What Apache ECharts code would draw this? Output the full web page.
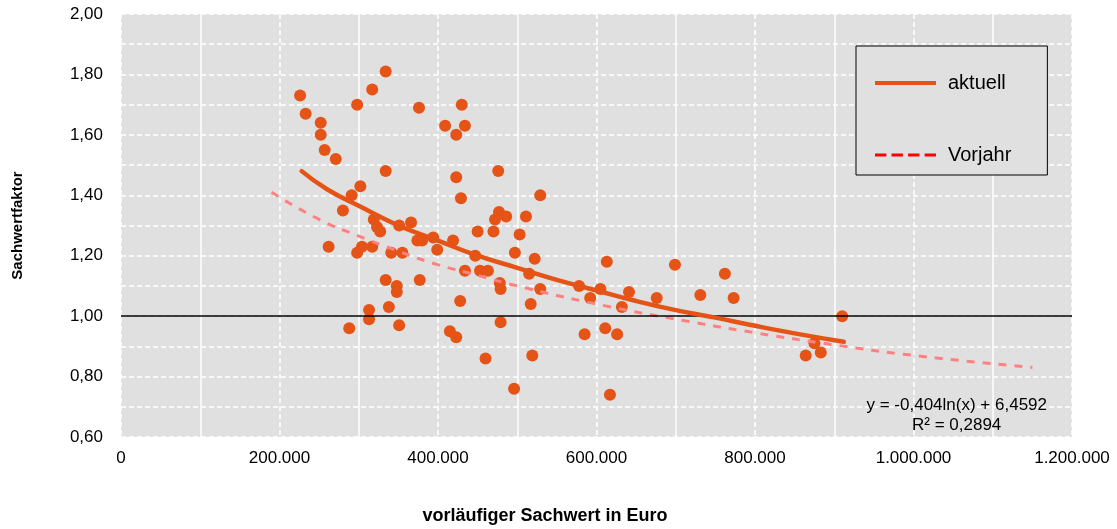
<!DOCTYPE html>
<html>
<head>
<meta charset="utf-8">
<script src="https://cdn.jsdelivr.net/npm/echarts@6/dist/echarts.min.js"></script>
<style>
html,body{margin:0;padding:0;background:#fff;}
#chart{width:1117px;height:529px;}
</style>
</head>
<body>
<div id="chart"></div>
<script>
// Data
const xTicks = [0, 200000, 400000, 600000, 800000, 1000000, 1200000];
const yTicks = [0.6, 0.8, 1.0, 1.2, 1.4, 1.6, 1.8, 2.0];

// Individual sales: [vorläufiger Sachwert (Euro), Sachwertfaktor]
const salesPoints = [
  [226000,1.73],[233000,1.67],[252000,1.64],[252000,1.60],[257000,1.55],[271000,1.52],
  [280000,1.35],[262000,1.23],[288000,0.96],[298000,1.70],[317000,1.75],[334000,1.81],
  [376000,1.69],[334000,1.48],[302000,1.43],[291000,1.40],[319000,1.32],[323000,1.295],
  [327000,1.28],[351000,1.30],[366000,1.31],[374000,1.25],[380000,1.25],[394000,1.26],
  [399000,1.22],[298000,1.21],[304000,1.23],[317000,1.23],[341000,1.21],[355000,1.21],
  [334000,1.12],[348000,1.10],[348000,1.08],[377000,1.12],[338000,1.03],[313000,1.02],
  [313000,0.99],[351000,0.97],
  [430000,1.70],[409000,1.63],[434000,1.63],[423000,1.60],[476000,1.48],[423000,1.46],
  [429000,1.39],[529000,1.40],[477000,1.345],[472000,1.32],[486000,1.33],[511000,1.33],
  [450000,1.28],[470000,1.28],[503000,1.27],[419000,1.25],[447000,1.20],[497000,1.21],
  [522000,1.19],[434000,1.15],[453000,1.15],[463000,1.15],[478000,1.11],[479000,1.09],
  [515000,1.14],[529000,1.09],[428000,1.05],[517000,1.04],[415000,0.95],[423000,0.93],
  [479000,0.98],[460000,0.86],[519000,0.87],[496000,0.76],
  [613000,1.18],[699000,1.17],[762000,1.14],[773000,1.06],[731000,1.07],[578000,1.10],
  [592000,1.06],[605000,1.09],[641000,1.08],[676000,1.06],[632000,1.03],[585000,0.94],
  [611000,0.96],[626000,0.94],[617000,0.74],[910000,1.00],[875000,0.91],[864000,0.87],
  [883000,0.88]
];

// Trend curve "aktuell"
const aktuellTrend = [
  [228000,1.48],[260000,1.42],[300000,1.365],[350000,1.30],[400000,1.25],[450000,1.20],
  [500000,1.16],[550000,1.12],[600000,1.085],[650000,1.05],[700000,1.02],[750000,0.995],
  [800000,0.968],[850000,0.943],[912000,0.915]
];

// Trend curve "Vorjahr"
const vorjahrTrend = [
  [190000,1.41],[250000,1.32],[300000,1.265],[350000,1.215],[400000,1.17],[450000,1.135],
  [500000,1.10],[600000,1.04],[700000,0.99],[800000,0.945],[900000,0.905],[1000000,0.87],
  [1150000,0.83]
];

const seriesNames = ['aktuell', 'Vorjahr'];
const formulaText = 'y = -0,404ln(x) + 6,4592';
const r2Text = 'R² = 0,2894';

const ORANGE = '#e55316';
const FONT = '"Liberation Sans", Arial, sans-serif';

function fmtX(v){ return String(v).replace(/\B(?=(\d{3})+(?!\d))/g, '.'); }
function fmtY(v){ return v.toFixed(2).replace('.', ','); }

const chart = echarts.init(document.getElementById('chart'), null, {renderer:'canvas'});
chart.setOption({
  animation: false,
  backgroundColor: '#ffffff',
  textStyle: {fontFamily: FONT},
  grid: {
    left: 121, right: 45, top: 14, bottom: 92,
    show: true, backgroundColor: '#e0e0e0', borderWidth: 0
  },
  xAxis: {
    type: 'value',
    min: xTicks[0], max: xTicks[xTicks.length-1], interval: 200000,
    axisLine: {show: false},
    axisTick: {show: false},
    axisLabel: {formatter: fmtX, color: '#000', fontSize: 17, margin: 13, fontFamily: FONT},
    splitLine: {show: true, lineStyle: {color: '#ffffff', width: 1.5, type: [5,3]}},
    minorTick: {show: false, splitNumber: 2},
    minorSplitLine: {show: true, lineStyle: {color: '#ffffff', width: 1.5, type: 'solid'}}
  },
  yAxis: {
    type: 'value',
    min: yTicks[0], max: yTicks[yTicks.length-1], interval: 0.2,
    name: 'Sachwertfaktor',
    nameLocation: 'middle',
    nameGap: 96,
    nameTextStyle: {fontWeight: 'bold', fontSize: 15, color: '#000', fontFamily: FONT},
    axisLine: {show: false},
    axisTick: {show: false},
    axisLabel: {formatter: fmtY, color: '#000', fontSize: 17, margin: 18, fontFamily: FONT},
    splitLine: {show: true, lineStyle: {color: '#ffffff', width: 1.5, type: [5,3]}},
    minorTick: {show: false, splitNumber: 2},
    minorSplitLine: {show: true, lineStyle: {color: '#ffffff', width: 1.5, type: [5,3]}}
  },
  title: [{
    text: 'vorläufiger Sachwert in Euro',
    left: 540, top: 502, textAlign: 'center',
    textStyle: {fontWeight: 'bold', fontSize: 18, color: '#000', fontFamily: FONT}
  }],
  legend: {
    orient: 'vertical',
    left: 856, top: 46,
    padding: [27, 36, 10, 19],
    itemGap: 52,
    itemWidth: 61, itemHeight: 14,
    backgroundColor: '#e0e0e0',
    borderColor: '#000', borderWidth: 1,
    textStyle: {fontSize: 20, color: '#000', fontFamily: FONT, padding: [0,0,0,7]},
    data: [
      {name: seriesNames[0], icon: 'path://M0,0 L61,0 L61,4 L0,4 Z', itemStyle: {color: ORANGE}},
      {name: seriesNames[1],
       icon: 'path://M0,0h11v3h-11z M16,0h11v3h-11z M32,0h11v3h-11z M48,0h11v3h-11z',
       itemStyle: {color: '#ff0000'}}
    ]
  },
  graphic: [
    {type: 'text', right: 70, top: 397, z: 100,
      style: {text: formulaText, fill: '#000', font: '17px ' + FONT}},
    {type: 'text', left: 912, top: 417, z: 100,
      style: {text: r2Text, fill: '#000', font: '17px ' + FONT}}
  ],
  series: [
    {
      name: 'Kauffälle',
      type: 'scatter',
      data: salesPoints,
      symbolSize: 12,
      itemStyle: {color: ORANGE, opacity: 1},
      z: 3,
      markLine: {
        silent: true, symbol: 'none',
        label: {show: false},
        lineStyle: {color: '#000', type: 'solid', width: 1.5},
        data: [{yAxis: 1}]
      }
    },
    {
      name: seriesNames[1],
      type: 'line',
      data: vorjahrTrend,
      smooth: true,
      symbol: 'none',
      lineStyle: {color: '#ff8080', width: 3, type: [8,8]},
      itemStyle: {color: '#ff0000'},
      z: 4
    },
    {
      name: seriesNames[0],
      type: 'line',
      data: aktuellTrend,
      smooth: true,
      symbol: 'none',
      lineStyle: {color: ORANGE, width: 4.5, cap: 'round'},
      itemStyle: {color: ORANGE},
      z: 5
    }
  ]
});
</script>
</body>
</html>
